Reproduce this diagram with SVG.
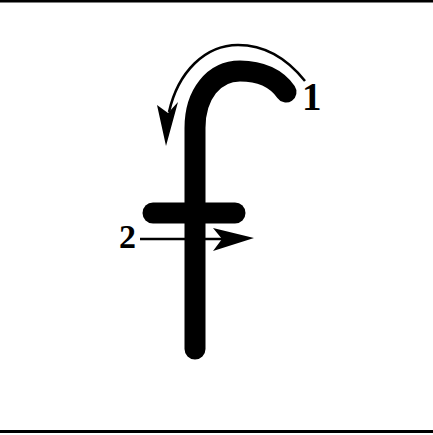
<svg xmlns="http://www.w3.org/2000/svg" width="433" height="435" viewBox="0 0 433 435">
<style>
.stroke{fill:none;stroke:#000;stroke-width:21;stroke-linecap:round;stroke-linejoin:round}
.guide{fill:none;stroke:#000;stroke-width:2.5}
.head{fill:#000}
.lbl{font-family:"Liberation Serif",serif;font-weight:bold;fill:#000}
</style>
<rect width="433" height="435" fill="#fff"/>
<rect x="0" y="0" width="433" height="2.5" fill="#000"/>
<rect x="0" y="430" width="433" height="3" fill="#000"/>
<g id="letter-f">
<path class="stroke" d="M195,349 L195,128 C195,94 214,71 240,71 C261,71 277,79 286,92"/>
<path class="stroke" d="M153,213 L235,213"/>
</g>
<g id="connectors">
<path class="guide" d="M305,81 C285,56 263,45 238,45 C205,45 178,72 169,112"/>
<polygon class="head" points="166,146 157,105 168,113 178,102"/>
<path class="guide" d="M140,239 L223,239"/>
<polygon class="head" points="254,238 213,228 222,239 213,251"/>
</g>
<g id="label-1"><text class="lbl" x="302" y="110" font-size="39">1</text></g>
<g id="label-2"><text class="lbl" x="119" y="248" font-size="34">2</text></g>
</svg>
